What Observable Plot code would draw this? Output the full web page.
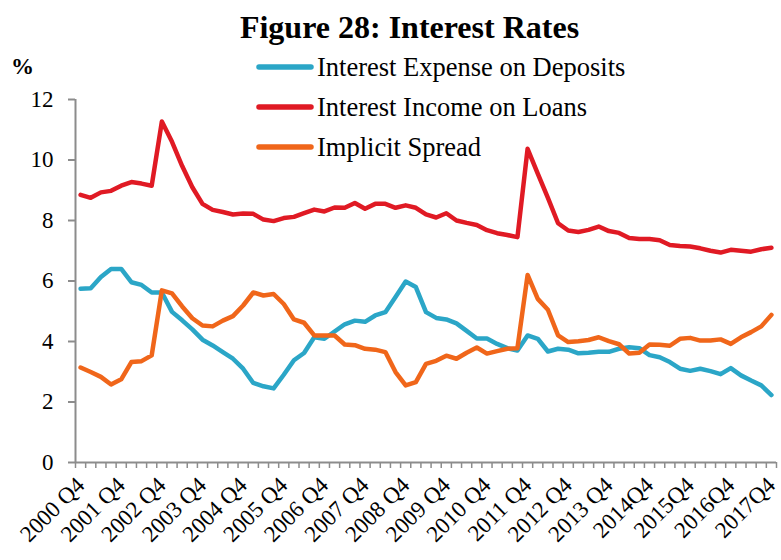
<!DOCTYPE html>
<html><head><meta charset="utf-8">
<script src="https://cdn.jsdelivr.net/npm/d3@7"></script>
<script src="https://cdn.jsdelivr.net/npm/@observablehq/plot@0.6"></script>
<style>
body{margin:0;background:#fff;font-family:"Liberation Serif","Times New Roman",serif;color:#000}
#wrap{position:relative;width:781px;height:560px;overflow:hidden}
#title{height:50px;box-sizing:border-box;padding-top:10px;line-height:34px;text-align:center;font-weight:bold;font-size:32px;padding-left:38px}
#pct{position:absolute;left:11px;top:53px;font-size:23px;font-weight:bold;line-height:28px}
#legend{position:absolute;left:256px;top:47px}
.row{display:flex;align-items:center;height:40px;font-size:26.5px;line-height:40px}
.row svg{margin-right:3px}
</style></head><body>
<div id="wrap">
<div id="title">Figure 28: Interest Rates</div>
<div id="chart"></div>
<div id="pct">%</div>
<div id="legend"></div>
</div>
<script>
// Quarter categories 2000 Q4 .. 2017 Q4
const quarters = [];
for (let y = 2000, q = 4; y < 2017 || (y === 2017 && q <= 4); ) {
  quarters.push(y + " Q" + q);
  q++; if (q > 4) { q = 1; y++; }
}
const tickLabels = ["2000 Q4","2001 Q4","2002 Q4","2003 Q4","2004 Q4","2005 Q4","2006 Q4","2007 Q4","2008 Q4","2009 Q4","2010 Q4","2011 Q4","2012 Q4","2013 Q4","2014Q4","2015Q4","2016Q4","2017Q4"];
const seriesNames = ["Interest Expense on Deposits","Interest Income on Loans","Implicit Spread"];
const seriesColors = ["#2ba6c7","#e01a24","#f0661a"];

const deposits = [5.74,5.76,6.13,6.40,6.40,5.96,5.87,5.62,5.62,4.98,4.70,4.40,4.06,3.87,3.65,3.43,3.10,2.63,2.52,2.45,2.90,3.38,3.62,4.14,4.09,4.33,4.57,4.69,4.65,4.86,4.97,5.47,5.98,5.80,4.97,4.78,4.73,4.60,4.35,4.10,4.10,3.92,3.78,3.70,4.20,4.09,3.67,3.76,3.73,3.61,3.63,3.66,3.66,3.76,3.81,3.78,3.55,3.48,3.32,3.10,3.03,3.10,3.02,2.92,3.12,2.88,2.71,2.55,2.23];
const loans = [8.85,8.75,8.93,8.98,9.15,9.27,9.22,9.15,11.27,10.60,9.80,9.10,8.55,8.35,8.28,8.20,8.23,8.22,8.03,7.98,8.08,8.12,8.24,8.36,8.30,8.43,8.42,8.58,8.39,8.55,8.55,8.42,8.50,8.42,8.20,8.10,8.24,8.00,7.92,7.85,7.68,7.58,7.52,7.45,10.37,9.55,8.75,7.91,7.67,7.62,7.69,7.80,7.65,7.59,7.42,7.39,7.39,7.35,7.19,7.16,7.14,7.08,7.00,6.94,7.03,7.00,6.97,7.05,7.10];
const spread = [3.14,2.99,2.83,2.58,2.75,3.32,3.35,3.54,5.69,5.59,5.16,4.77,4.53,4.50,4.69,4.84,5.19,5.62,5.52,5.57,5.24,4.73,4.62,4.20,4.20,4.20,3.90,3.88,3.76,3.73,3.65,2.99,2.55,2.66,3.26,3.36,3.53,3.43,3.63,3.80,3.60,3.68,3.76,3.78,6.20,5.41,5.05,4.20,3.98,4.01,4.05,4.14,4.01,3.91,3.60,3.63,3.90,3.89,3.86,4.09,4.12,4.03,4.03,4.07,3.92,4.14,4.31,4.50,4.88];
const yTicks = [0,2,4,6,8,10,12];

const valuesBySeries = [deposits, loans, spread];
const data = [];
valuesBySeries.forEach((vals, s) => vals.forEach((v, i) => data.push({series: seriesNames[s], i, quarter: quarters[i], value: v})));

const n = quarters.length;
const boundaries = d3.range(n + 1).map(k => k - 0.5);
const labelPos = tickLabels.map((lab) => quarters.indexOf(lab.replace(/(\d{4})\s?Q/, "$1 Q")));

const gray = "#8c8c8c";
const chart = Plot.plot({
  width: 781,
  height: 510,
  marginLeft: 75,
  marginRight: 5,
  marginTop: 49,
  marginBottom: 98,
  style: {fontFamily: '"Liberation Serif","Times New Roman",serif', color: "#000", background: "#fff"},
  x: {type: "linear", domain: [-0.5, n - 0.5], axis: null},
  y: {domain: [0, 12], axis: null},
  color: {domain: seriesNames, range: seriesColors},
  marks: [
    Plot.axisY({ticks: yTicks, tickSize: 7, tickPadding: 15, fontSize: 23, stroke: gray, strokeWidth: 2, fill: "#000", label: null}),
    Plot.axisX({ticks: boundaries, tickSize: 6, tickFormat: () => "", stroke: gray, strokeWidth: 1.5, label: null}),
    Plot.axisX({ticks: labelPos, tickSize: 0, tickPadding: 19, tickRotate: -45, fontSize: 23, fill: "#000",
      tickFormat: (d) => tickLabels[labelPos.indexOf(d)], label: null}),
    Plot.ruleX([-0.5], {stroke: gray, strokeWidth: 2}),
    Plot.ruleY([0], {stroke: gray, strokeWidth: 2}),
    Plot.line(data, {x: "i", y: "value", z: "series", stroke: "series", strokeWidth: 4.5, strokeLinejoin: "round", strokeLinecap: "round"})
  ]
});
document.getElementById("chart").appendChild(chart);

const legend = document.getElementById("legend");
seriesNames.forEach((name, s) => {
  const row = document.createElement("div");
  row.className = "row";
  row.innerHTML = `<svg width="58" height="10"><line x1="3" y1="5" x2="55" y2="5" stroke="${seriesColors[s]}" stroke-width="5.5" stroke-linecap="round"/></svg><span>${name}</span>`;
  legend.appendChild(row);
});
</script>
</body></html>
